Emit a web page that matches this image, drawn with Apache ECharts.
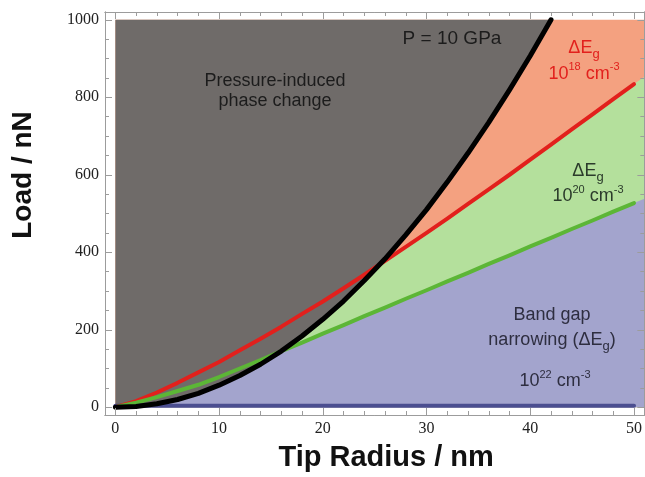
<!DOCTYPE html>
<html><head><meta charset="utf-8">
<script src="https://cdn.jsdelivr.net/npm/echarts@6/dist/echarts.min.js"></script>
<style>html,body{margin:0;padding:0;background:#fff}#c{width:645px;height:477px}</style>
</head><body><div id="c"></div>
<script>
// ---- data ----
const radius = [0,2,4,6,8,10,12,14,16,18,20,22,24,26,28,30,32,34,36,38,40,42,44,46,48,50,51];
const loadRed = [0,16,38,63,90,117,147,177,208,241,273,307,342,378,414,450,487,525,562,600,639,678,717,756,795,834,853];
const loadGreen = [0,12,26,42,58,78,100,122,145,167,190,212,235,257,280,302,325,347,370,392,415,437,460,482,505,527,538];
const blackRadius = [0,2,4,6,8,10,12,14,16,18,20,22,24,26,28,30,32,34,36,38,40,42];
const loadBlack = [0,2,9,20,36,57,82,111,145,184,227,274,327,383,445,510,581,656,735,819,907,1000];
const blueRadius = [0,50];
const loadBlue = [4,4];
const loadCeiling = 1000;
const lineEndRadius = 50;
const xMajorTicks = [0,10,20,30,40,50];
const xMinorTicks = [2,4,6,8,12,14,16,18,22,24,26,28,32,34,36,38,42,44,46,48];
const yMajorTicks = [0,200,400,600,800,1000];
const yMinorTicks = [50,100,150,250,300,350,450,500,550,650,700,750,850,900,950];

// ---- styling ----
const SANS = "'Liberation Sans', Arial, Helvetica, sans-serif";
const SERIF = "'Liberation Serif', 'Times New Roman', serif";
const X_MIN = -1, X_MAX = 51, Y_MIN = -20, Y_MAX = 1020;
const axisGray = '#9c9c9c';
const C = {
  gray: '#6f6b69', salmon: '#f4a180', lightGreen: '#b4e09c', lavender: '#a3a4cd',
  blue: '#4b4e90', red: '#e2201c', green: '#5cb636', black: '#000000'
};

const pairs = (xs, ys) => xs.map((x, i) => [x, ys[i]]);
const upTo = (xs, ys, lim) => pairs(xs, ys).filter(p => p[0] <= lim);

function mkAxis(kind, position, ticks, len, withLabels, extra) {
  const a = {
    type: 'value', position, z: 10,
    min: kind === 'x' ? X_MIN : Y_MIN, max: kind === 'x' ? X_MAX : Y_MAX,
    axisLine: { show: true, onZero: false, lineStyle: { color: axisGray, width: 1 } },
    axisTick: { show: true, inside: true, length: len, customValues: ticks, lineStyle: { color: axisGray, width: 1 } },
    axisLabel: withLabels ? { show: true, customValues: ticks, margin: 6, color: '#222', fontFamily: SERIF, fontSize: 16,
      formatter: v => String(v) } : { show: false },
    splitLine: { show: false }, minorTick: { show: false }, minorSplitLine: { show: false }
  };
  return Object.assign(a, extra || {});
}

const xAxes = [
  mkAxis('x', 'bottom', xMajorTicks, 7, true, {
    name: 'Tip Radius / nm', nameLocation: 'middle', nameGap: 28,
    nameTextStyle: { fontFamily: SANS, fontWeight: 'bold', fontSize: 29, color: '#111', padding: [0, 0, 0, 23] }
  }),
  mkAxis('x', 'bottom', xMinorTicks, 4, false),
  mkAxis('x', 'top', xMajorTicks, 7, false),
  mkAxis('x', 'top', xMinorTicks, 4, false)
];
const yAxes = [
  mkAxis('y', 'left', yMajorTicks, 7, true, {
    name: 'Load / nN', nameLocation: 'middle', nameGap: 68,
    nameTextStyle: { fontFamily: SANS, fontWeight: 'bold', fontSize: 28, color: '#111', padding: [0, 0, 0, 77] }
  }),
  mkAxis('y', 'left', yMinorTicks, 4, false),
  mkAxis('y', 'right', yMajorTicks, 7, false),
  mkAxis('y', 'right', yMinorTicks, 4, false)
];

const base = { type: 'line', symbol: 'none', silent: true, smooth: false, xAxisIndex: 0, yAxisIndex: 0 };
const fill = (data, color, z) => Object.assign({}, base, {
  data, z, lineStyle: { width: 0, opacity: 0 }, areaStyle: { color, opacity: 1 }
});
const line = (data, color, width, z) => Object.assign({}, base, {
  data, z, lineStyle: { color, width, cap: 'round', join: 'round' }
});

// gray region: from the P = 10 GPa curve up to the 1000 nN ceiling
// (area drawn from the curve to the ceiling as its origin)
const grayRegion = Object.assign({}, base, {
  data: pairs(blackRadius, loadBlack), z: 5,
  lineStyle: { width: 0, opacity: 0 },
  areaStyle: { color: C.gray, opacity: 1, origin: loadCeiling }
});

const series = [
  fill([[radius[0], loadCeiling], [radius[radius.length - 1], loadCeiling]], C.salmon, 2),
  fill(pairs(radius, loadRed), C.lightGreen, 3),
  fill(pairs(radius, loadGreen), C.lavender, 4),
  grayRegion,
  line(pairs(blueRadius, loadBlue), C.blue, 4, 6),
  line(upTo(radius, loadRed, lineEndRadius), C.red, 4, 7),
  line(upTo(radius, loadGreen, lineEndRadius), C.green, 4, 7),
  line(pairs(blackRadius, loadBlack), C.black, 5, 8)
];

function rich(size, color, lh) {
  const supSize = Math.round(size * 0.6), subSize = Math.round(size * 0.7);
  const supLH = 2 * (lh / 2 - 0.366 * size + 0.366 * supSize - 1.5);
  return {
    m: { fontSize: size, fontFamily: SANS, fill: color, lineHeight: lh },
    sup: { fontSize: supSize, fontFamily: SANS, fill: color, verticalAlign: 'top', lineHeight: supLH },
    sub: { fontSize: subSize, fontFamily: SANS, fill: color, verticalAlign: 'bottom', lineHeight: lh - 9 }
  };
}
function label(x, y, text, size, color, lh) {
  return { type: 'text', x, y, z: 100, silent: true,
    style: { text, rich: rich(size, color, lh), fontSize: size, fontFamily: SANS, fill: color,
      lineHeight: lh, align: 'center', verticalAlign: 'top' } };
}

const graphic = [
  label(452, 29, '{m|P = 10 GPa}', 19, '#1c1c1c', 20),
  label(275, 71.5, '{m|Pressure-induced}\n{m|phase change}', 18, '#1c1c1c', 20),
  label(584, 35, '{m|ΔE}{sub|g}\n{m|10}{sup|18}{m| cm}{sup|-3}', 18, C.red, 26),
  label(588, 159, '{m|ΔE}{sub|g}\n{m|10}{sup|20}{m| cm}{sup|-3}', 18, '#2b3b2b', 25),
  label(552, 303, '{m|Band gap}\n{m|narrowing (ΔE}{sub|g}{m|)}', 18, '#2e2e40', 25),
  label(555, 369, '{m|10}{sup|22}{m| cm}{sup|-3}', 18, '#2e2e40', 25)
];

const chart = echarts.init(document.getElementById('c'), null, { renderer: 'canvas' });
chart.setOption({
  animation: false,
  backgroundColor: '#ffffff',
  grid: { left: 105, top: 12, width: 543, height: 407, containLabel: false },
  xAxis: xAxes,
  yAxis: yAxes,
  series,
  graphic
});
</script></body></html>
